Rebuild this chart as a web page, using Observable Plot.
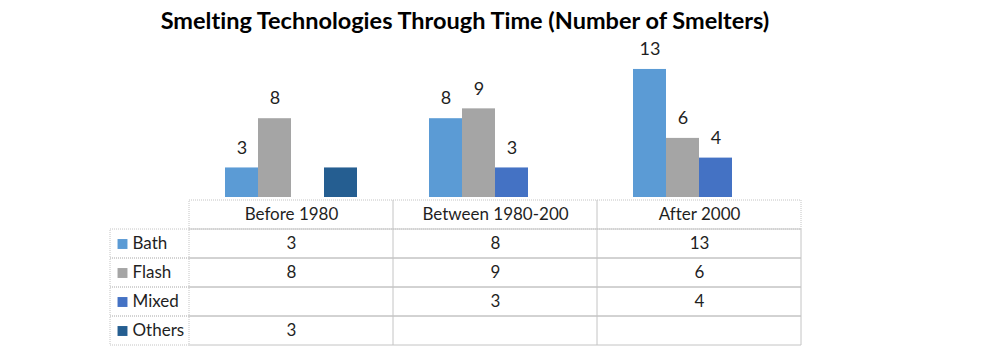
<!DOCTYPE html>
<html>
<head>
<meta charset="utf-8">
<script src="https://cdn.jsdelivr.net/npm/d3@7"></script>
<script src="https://cdn.jsdelivr.net/npm/@observablehq/plot@0.6"></script>
<style>
  body { margin: 0; background: #fff; font-family: Lato, "Open Sans", sans-serif; font-variant-ligatures: none; }
  #wrap { width: 993px; height: 363px; position: relative; }
  #chart { position: absolute; left: 0; top: 0; }
  #title { position: absolute; left: 0; top: 0; width: 930px; height: 40px; line-height: 40px;
           text-align: center; font-weight: bold; font-size: 23.5px; color: #000; font-family: Lato, sans-serif;
           font-variant-ligatures: none; font-feature-settings: "liga" 0; }
  #table { position: absolute; left: 0; top: 197px; }
  svg { display: block; }
</style>
</head>
<body>
<div id="wrap">
  <div id="chart"></div>
  <div id="title">Smelting Technologies Through Time (Number of Smelters)</div>
  <div id="table"></div>
</div>
<script>
const periods = ["Before 1980", "Between 1980-200", "After 2000"];
const series = ["Bath", "Flash", "Mixed", "Others"];
const colors = ["#5B9BD5", "#A5A5A5", "#4472C4", "#255E91"];
const bath = [3, 8, 13];
const flash = [8, 9, 6];
const mixed = [null, 3, 4];
const others = [3, null, null];
const labeled = ["Bath", "Flash", "Mixed"]; // series shown with data labels above bars

const valuesBySeries = {Bath: bath, Flash: flash, Mixed: mixed, Others: others};
const records = [];
series.forEach(s => periods.forEach((p, i) => {
  records.push({series: s, period: p, value: valuesBySeries[s][i]});
}));
const present = records.filter(d => d.value != null);

const colorScale = {domain: series, range: colors};
const textColor = "#1f1f1f";
const gridColor = "#c4c4c4";

// Bar chart
const chart = Plot.plot({
  width: 993,
  height: 197,
  marginLeft: 188,
  marginRight: 192,
  marginTop: 40,
  marginBottom: 0,
  style: {fontFamily: "Lato, sans-serif", fontSize: "17px", background: "transparent", overflow: "visible"},
  fx: {domain: periods, padding: 0, axis: null},
  x: {domain: series, paddingInner: 0, paddingOuter: 1.09, axis: null},
  y: {domain: [0, 15.94], axis: null},
  color: colorScale,
  marks: [
    Plot.barY(present, {fx: "period", x: "series", y: "value", fill: "series"}),
    Plot.text(present.filter(d => labeled.includes(d.series)), {
      fx: "period", x: "series", y: "value", text: d => String(d.value),
      dy: -20, lineAnchor: "middle", fill: textColor, fontSize: 18
    })
  ]
});
document.getElementById("chart").appendChild(chart);

// Data table
const rowKeys = ["header", ...series];
const cells = [];
rowKeys.forEach(r => periods.forEach(p => cells.push({row: r, period: p})));

const table = Plot.plot({
  width: 993,
  height: 152,
  marginLeft: 188,
  marginRight: 192,
  marginTop: 1,
  marginBottom: 2,
  style: {fontFamily: "Lato, sans-serif", fontSize: "17px", background: "transparent"},
  x: {domain: periods, padding: 0, axis: null},
  y: {domain: rowKeys, padding: 0, axis: null},
  color: colorScale,
  marks: [
    Plot.cell(cells, {x: "period", y: "row", fill: "none", stroke: gridColor, strokeDasharray: "1,1"}),
    Plot.cell(series, {y: d => d, insetLeft: -78, fill: "none", stroke: gridColor, strokeDasharray: "1,1"}),
    Plot.text(periods, {x: d => d, y: () => "header", text: d => d, fill: textColor}),
    Plot.text(records.filter(d => d.value != null), {x: "period", y: "series", text: d => String(d.value), fill: textColor}),
    Plot.dot(series, {y: d => d, frameAnchor: "left", dx: -66, symbol: "square", r: 5.6, fill: d => d}),
    Plot.text(series, {y: d => d, frameAnchor: "left", dx: -56, textAnchor: "start", text: d => d, fill: textColor})
  ]
});
document.getElementById("table").appendChild(table);
</script>
</body>
</html>
